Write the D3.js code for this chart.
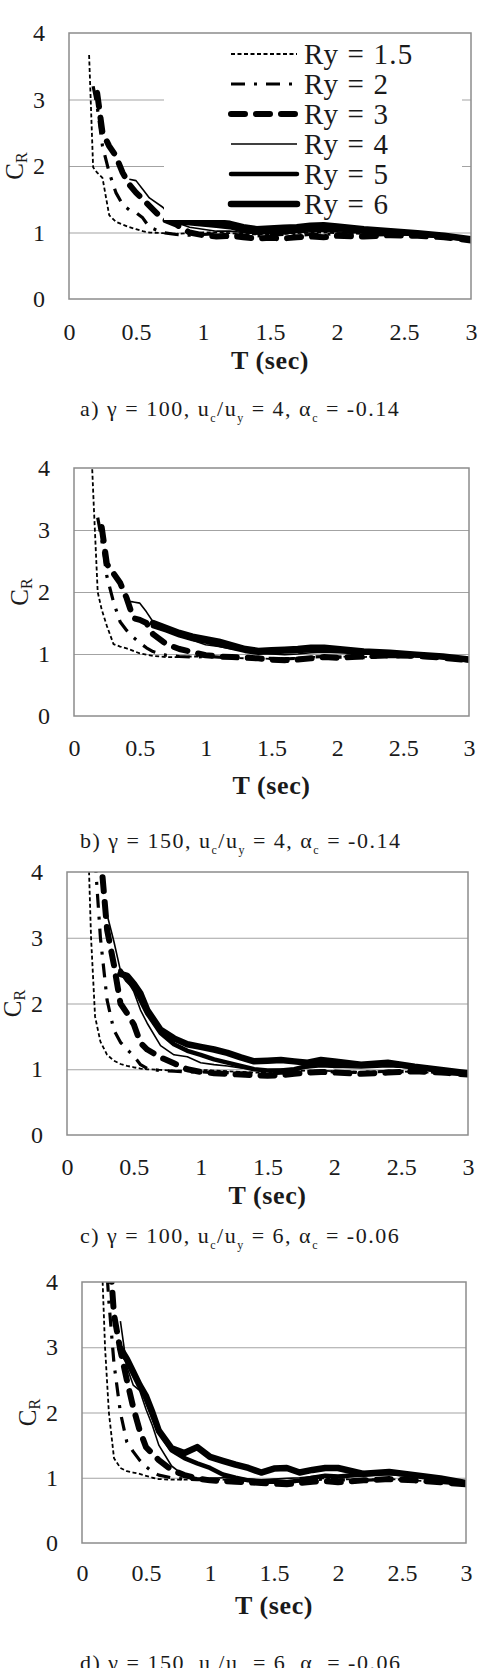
<!DOCTYPE html>
<html>
<head>
<meta charset="utf-8">
<script src="https://cdn.jsdelivr.net/npm/d3@7"></script>
<style>
body { margin: 0; background: #fff; }
svg text { font-family: "Liberation Serif", "Times New Roman", serif; fill: #1a1a1a; white-space: pre; }
</style>
</head>
<body>
<div id="chart"></div>
<script>
// periods T (sec) shared by every series
var periods = [0.13, 0.15, 0.18, 0.21, 0.25, 0.3, 0.35, 0.4, 0.45, 0.5, 0.55, 0.6, 0.7, 0.8, 0.9,
               1.0, 1.1, 1.2, 1.3, 1.4, 1.5, 1.6, 1.7, 1.8, 1.9, 2.0, 2.2, 2.4, 2.6, 2.8, 3.0];
var seriesNames = ["Ry = 1.5", "Ry = 2", "Ry = 3", "Ry = 4", "Ry = 5", "Ry = 6"];
var xTicks = [0, 0.5, 1, 1.5, 2, 2.5, 3];
var yTicks = [0, 1, 2, 3, 4];
var gridValues = [1, 2, 3];
var _ = null;

// a) gamma 100, uc/uy 4
var a_ry15 = [_, 3.67, 1.98, 1.9, 1.82, 1.26, 1.16, 1.12, 1.08, 1.05, 1.02, 1.0, 0.99, 0.98, 0.99, 1.0, 1.0, 0.99, 0.98, 0.97, 0.97, 0.98, 0.99, 1.0, 1.0, 0.99, 0.98, 0.97, 0.96, 0.94, 0.9];
var a_ry2 = [_, _, 3.2, 2.9, 2.3, 1.9, 1.6, 1.42, 1.34, 1.3, 1.22, 1.08, 1.0, 0.97, 0.96, 0.97, 0.98, 0.97, 0.96, 0.95, 0.96, 0.97, 0.96, 0.97, 0.98, 0.97, 0.96, 0.97, 0.96, 0.93, 0.9];
var a_ry3 = [_, _, _, 3.1, 2.5, 2.3, 2.15, 1.9, 1.72, 1.6, 1.5, 1.4, 1.2, 1.12, 1.0, 0.96, 0.94, 0.95, 0.93, 0.91, 0.92, 0.91, 0.93, 0.94, 0.93, 0.95, 0.94, 0.96, 0.95, 0.93, 0.88];
var a_ry4 = [_, _, _, _, _, _, _, _, 1.8, 1.78, 1.65, 1.52, 1.38, 1.15, 1.08, 1.05, 1.02, 1.02, 1.0, 0.98, 0.99, 0.98, 1.0, 1.01, 1.02, 1.01, 0.99, 0.98, 0.97, 0.94, 0.9];
var a_ry5 = [_, _, _, _, _, _, _, _, _, _, _, _, _, 1.15, 1.14, 1.12, 1.1, 1.08, 1.03, 1.0, 1.01, 1.02, 1.03, 1.05, 1.06, 1.05, 1.02, 1.0, 0.97, 0.94, 0.89];
var a_ry6 = [_, _, _, _, _, _, _, _, _, _, _, _, _, 1.17, 1.16, 1.16, 1.15, 1.13, 1.08, 1.05, 1.06, 1.07, 1.08, 1.1, 1.11, 1.09, 1.05, 1.02, 0.99, 0.95, 0.9];

// b) gamma 150, uc/uy 4
var b_ry15 = [4.4, 3.4, 2.0, 1.72, 1.45, 1.16, 1.12, 1.09, 1.05, 1.01, 0.99, 0.97, 0.95, 0.95, 0.96, 0.96, 0.95, 0.94, 0.93, 0.93, 0.92, 0.93, 0.94, 0.95, 0.96, 0.96, 0.95, 0.97, 0.96, 0.93, 0.89];
var b_ry2 = [_, _, 3.2, 2.85, 2.25, 1.84, 1.52, 1.38, 1.27, 1.18, 1.1, 1.04, 0.98, 0.96, 0.95, 0.96, 0.95, 0.94, 0.93, 0.92, 0.93, 0.92, 0.93, 0.95, 0.96, 0.95, 0.94, 0.96, 0.95, 0.93, 0.89];
var b_ry3 = [_, _, _, 3.05, 2.45, 2.3, 2.15, 1.9, 1.58, 1.55, 1.5, 1.32, 1.16, 1.08, 1.03, 0.98, 0.96, 0.95, 0.94, 0.93, 0.91, 0.9, 0.91, 0.93, 0.95, 0.94, 0.96, 0.98, 0.97, 0.94, 0.9];
var b_ry4 = [_, _, _, _, _, _, _, 1.85, 1.84, 1.82, 1.68, 1.52, 1.42, 1.33, 1.22, 1.15, 1.12, 1.08, 1.05, 1.02, 1.0, 0.99, 1.0, 1.02, 1.03, 1.02, 1.0, 0.99, 0.97, 0.94, 0.9];
var b_ry5 = [_, _, _, _, _, _, _, _, _, _, _, 1.45, 1.38, 1.3, 1.24, 1.2, 1.15, 1.1, 1.05, 1.02, 1.03, 1.04, 1.05, 1.06, 1.07, 1.06, 1.03, 1.01, 0.98, 0.95, 0.9];
var b_ry6 = [_, _, _, _, _, _, _, _, _, _, _, 1.5, 1.42, 1.34, 1.28, 1.24, 1.2, 1.14, 1.08, 1.05, 1.06, 1.07, 1.08, 1.1, 1.1, 1.08, 1.04, 1.02, 0.99, 0.96, 0.91];

// c) gamma 100, uc/uy 6
var c_ry15 = [_, 5.0, 3.0, 1.8, 1.42, 1.22, 1.13, 1.08, 1.05, 1.03, 1.01, 1.0, 0.99, 0.98, 0.98, 0.99, 0.98, 0.97, 0.96, 0.95, 0.95, 0.96, 0.97, 0.98, 0.98, 0.97, 0.96, 0.97, 0.96, 0.94, 0.91];
var c_ry2 = [_, _, _, 4.2, 3.0, 2.05, 1.6, 1.41, 1.3, 1.2, 1.07, 1.01, 0.98, 0.97, 0.96, 0.96, 0.95, 0.95, 0.94, 0.94, 0.93, 0.94, 0.95, 0.96, 0.97, 0.96, 0.95, 0.97, 0.96, 0.94, 0.91];
var c_ry3 = [_, _, _, _, 4.3, 3.12, 2.6, 2.0, 1.85, 1.68, 1.4, 1.3, 1.18, 1.09, 1.0, 0.96, 0.94, 0.93, 0.92, 0.91, 0.9, 0.91, 0.93, 0.95, 0.96, 0.95, 0.93, 0.95, 0.97, 0.95, 0.92];
var c_ry4 = [_, _, _, _, _, 3.35, 2.95, 2.5, 2.35, 2.18, 1.9, 1.7, 1.36, 1.22, 1.19, 1.1, 1.07, 1.05, 1.02, 1.0, 0.99, 1.0, 1.01, 1.02, 1.04, 1.03, 1.02, 1.04, 1.02, 0.98, 0.93];
var c_ry5 = [_, _, _, _, _, _, _, 2.5, 2.35, 2.25, 2.05, 1.85, 1.55, 1.38, 1.28, 1.22, 1.15, 1.1, 1.05, 1.0, 0.98, 0.98, 1.0, 1.05, 1.08, 1.05, 1.06, 1.08, 1.03, 0.98, 0.93];
var c_ry6 = [_, _, _, _, _, _, _, 2.45, 2.42, 2.3, 2.15, 1.9, 1.6, 1.47, 1.38, 1.34, 1.3, 1.25, 1.18, 1.12, 1.13, 1.14, 1.12, 1.1, 1.14, 1.12, 1.07, 1.1, 1.04, 0.99, 0.94];

// d) gamma 150, uc/uy 6
var d_ry15 = [_, 4.6, 3.0, 2.0, 1.3, 1.15, 1.1, 1.08, 1.06, 1.03, 1.0, 0.98, 0.97, 0.97, 0.98, 0.98, 0.97, 0.96, 0.95, 0.94, 0.94, 0.95, 0.96, 0.98, 0.99, 0.98, 0.97, 0.98, 0.96, 0.93, 0.9];
var d_ry2 = [_, _, 4.6, 3.7, 2.75, 2.0, 1.55, 1.4, 1.27, 1.17, 1.09, 1.04, 1.0, 0.98, 0.97, 0.97, 0.96, 0.95, 0.94, 0.93, 0.93, 0.94, 0.95, 0.97, 0.98, 0.97, 0.96, 0.98, 0.96, 0.93, 0.9];
var d_ry3 = [_, _, _, 4.6, 3.5, 2.95, 2.5, 2.08, 1.73, 1.47, 1.37, 1.27, 1.12, 1.04, 0.99, 0.96, 0.95, 0.94, 0.93, 0.92, 0.91, 0.9, 0.92, 0.94, 0.95, 0.93, 0.96, 0.98, 0.96, 0.93, 0.9];
var d_ry4 = [_, _, _, _, _, 3.4, 2.7, 2.42, 2.34, 2.05, 1.8, 1.5, 1.18, 1.03, 1.0, 0.99, 1.0, 1.0, 0.98, 0.97, 0.98, 0.99, 1.0, 1.02, 1.04, 1.03, 1.05, 1.06, 1.03, 0.98, 0.92];
var d_ry5 = [_, _, _, _, _, 2.96, 2.8, 2.6, 2.42, 2.2, 1.95, 1.72, 1.42, 1.3, 1.22, 1.15, 1.05, 1.0, 0.96, 0.94, 0.95, 0.93, 0.96, 1.0, 1.03, 1.02, 1.05, 1.07, 1.04, 0.99, 0.92];
var d_ry6 = [_, _, _, _, _, 2.98, 2.82, 2.62, 2.42, 2.25, 2.0, 1.72, 1.45, 1.38, 1.47, 1.32, 1.26, 1.2, 1.15, 1.08, 1.14, 1.15, 1.08, 1.12, 1.15, 1.15, 1.06, 1.09, 1.04, 0.99, 0.92];

var captionLetters = ["a", "b", "c", "d"];
var gammaValues = [100, 150, 100, 150];
var ductilityRatios = [4, 4, 6, 6];
var alphaValues = ["-0.14", "-0.14", "-0.06", "-0.06"];

var lineStyles = [
    {w: 1.8, dash: "4,2.5", cap: "butt"},
    {w: 3.2, dash: "14,9,3,9", cap: "butt"},
    {w: 6, dash: "14,11", cap: "round"},
    {w: 1.6, dash: null, cap: "butt"},
    {w: 4.5, dash: null, cap: "round"},
    {w: 6.5, dash: null, cap: "round"}
];

var panels = [
    {left: 69, top: 33, right: 471, bottom: 299, tickGap: 24, titleY: 360, captionY: 408, series: [a_ry15, a_ry2, a_ry3, a_ry4, a_ry5, a_ry6], legend: true},
    {left: 74, top: 468, right: 469, bottom: 716, tickGap: 23, titleY: 785, captionY: 840, series: [b_ry15, b_ry2, b_ry3, b_ry4, b_ry5, b_ry6]},
    {left: 67, top: 872, right: 468, bottom: 1135, tickGap: 23, titleY: 1195, captionY: 1235, series: [c_ry15, c_ry2, c_ry3, c_ry4, c_ry5, c_ry6]},
    {left: 82, top: 1282, right: 466, bottom: 1543, tickGap: 21, titleY: 1605, captionY: 1662, series: [d_ry15, d_ry2, d_ry3, d_ry4, d_ry5, d_ry6]}
];

var svg = d3.select("#chart").append("svg")
        .attr("width", 488)
        .attr("height", 1668);

function styleLine(sel, st) {
    sel.attr("fill", "none")
        .attr("stroke", "#000")
        .attr("stroke-width", st.w)
        .attr("stroke-linecap", st.cap)
        .attr("stroke-linejoin", "round")
        .attr("stroke-dasharray", st.dash);
}

panels.forEach(function(p, i) {
    var x = d3.scaleLinear().domain([0, 3]).range([p.left, p.right]);
    var y = d3.scaleLinear().domain([0, 4]).range([p.bottom, p.top]);
    var g = svg.append("g");

    // grid
    g.append("g")
        .attr("transform", "translate(" + p.left + ",0)")
        .call(d3.axisLeft(y).tickValues(gridValues).tickSize(-(p.right - p.left)).tickFormat(""))
        .call(function(a) { a.select(".domain").remove(); })
        .selectAll("line").attr("stroke", "#a3a3a3").attr("stroke-width", 1.2);

    // y tick labels
    g.append("g")
        .attr("transform", "translate(" + p.left + ",0)")
        .call(d3.axisLeft(y).tickValues(yTicks).tickSize(0).tickPadding(24).tickFormat(d3.format("")))
        .call(function(a) { a.select(".domain").remove(); })
        .selectAll("text").attr("font-size", 24).attr("font-family", null).attr("fill", "#1a1a1a");

    // x tick labels
    g.append("g")
        .attr("transform", "translate(0," + p.bottom + ")")
        .call(d3.axisBottom(x).tickValues(xTicks).tickSize(0).tickPadding(p.tickGap).tickFormat(d3.format("")))
        .call(function(a) { a.select(".domain").remove(); })
        .selectAll("text").attr("font-size", 24).attr("font-family", null).attr("fill", "#1a1a1a");

    // lines
    var clipId = "clip" + i;
    svg.append("clipPath").attr("id", clipId)
        .append("rect")
        .attr("x", p.left).attr("y", p.top)
        .attr("width", p.right - p.left).attr("height", p.bottom - p.top);

    var line = d3.line()
        .defined(function(d) { return d[1] != null; })
        .x(function(d) { return x(d[0]); })
        .y(function(d) { return y(d[1]); });

    var lg = g.append("g").attr("clip-path", "url(#" + clipId + ")");
    p.series.forEach(function(vals, k) {
        var pts = periods.map(function(t, j) { return [t, vals[j]]; });
        lg.append("path").datum(pts).attr("d", line).call(styleLine, lineStyles[k]);
    });

    // frame
    g.append("rect")
        .attr("x", p.left).attr("y", p.top)
        .attr("width", p.right - p.left).attr("height", p.bottom - p.top)
        .attr("fill", "none").attr("stroke", "#8c8c8c").attr("stroke-width", 1.5);

    // legend
    if (p.legend) {
        var leg = g.append("g");
        leg.append("rect").attr("x", 164).attr("y", 38).attr("width", 298).attr("height", 182).attr("fill", "#fff");
        seriesNames.forEach(function(name, k) {
            var ly = 54 + k * 30;
            leg.append("line").attr("x1", 231).attr("x2", 297).attr("y1", ly).attr("y2", ly)
                .call(styleLine, lineStyles[k]);
            leg.append("text").attr("x", 304).attr("y", ly).attr("dy", "0.33em")
                .attr("font-size", 29).attr("letter-spacing", 1.2).text(name);
        });
    }

    // axis titles
    g.append("text")
        .attr("x", (p.left + p.right) / 2).attr("y", p.titleY).attr("dy", "0.35em")
        .attr("text-anchor", "middle").attr("font-size", 26).attr("font-weight", "bold")
        .attr("letter-spacing", 0.6)
        .text("T (sec)");

    var yl = g.append("text")
        .attr("transform", "translate(" + (p.left - 55) + "," + ((p.top + p.bottom) / 2) + ") rotate(-90)")
        .attr("text-anchor", "middle").attr("dy", "0.35em").attr("font-size", 25);
    yl.append("tspan").text("C");
    yl.append("tspan").attr("font-size", 16).attr("dy", 4).text("R");

    // caption
    var cap = g.append("text").attr("x", 80).attr("y", p.captionY).attr("dy", "0.35em")
        .attr("font-size", 22).attr("letter-spacing", 1.5);
    var parts = [
        [captionLetters[i] + ") γ = " + gammaValues[i] + ", u", false], ["c", true], ["/u", false], ["y", true],
        [" = " + ductilityRatios[i] + ", α", false], ["c", true], [" = " + alphaValues[i], false]
    ];
    var shifted = false;
    parts.forEach(function(pt) {
        var t = cap.append("tspan").text(pt[0]);
        if (pt[1]) { t.attr("font-size", 12).attr("dy", 6); shifted = true; }
        else if (shifted) { t.attr("dy", -6); shifted = false; }
    });
});
</script>
</body>
</html>
